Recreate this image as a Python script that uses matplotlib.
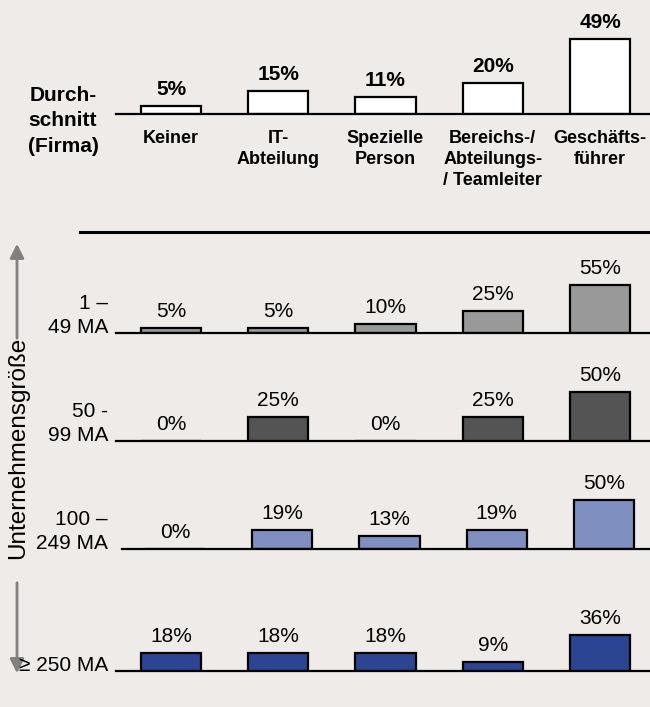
import matplotlib
matplotlib.use("Agg")
import matplotlib.pyplot as plt

plt.rcParams['font.family'] = ['Liberation Sans', 'DejaVu Sans']

# data
categories = ["Keiner", "IT-\nAbteilung", "Spezielle\nPerson",
              "Bereichs-/\nAbteilungs-\n/ Teamleiter", "Geschäfts-\nführer"]
average = [5, 15, 11, 20, 49]
row_labels = ["1 –\n49 MA", "50 -\n99 MA", "100 –\n249 MA", "≥ 250 MA"]
row_values = [
    [5, 5, 10, 25, 55],
    [0, 25, 0, 25, 50],
    [0, 19, 13, 19, 50],
    [18, 18, 18, 9, 36],
]
row_colors = ["#999999", "#545454", "#7F8FBF", "#2B4592"]
bg = "#EEEBE9"

W, H = 650, 707
fig = plt.figure(figsize=(6.5, 7.07), dpi=100, facecolor=bg)


def panel(baseline, left, first_center, px_per_pct, height=90):
    step = 107.25
    ax = fig.add_axes([left / W, 1 - baseline / H, (W - left) / W, height / H])
    ax.set_xlim((left - first_center) / step, (W - first_center) / step)
    ax.set_ylim(0, height / px_per_pct)
    ax.axis("off")
    ax.axhline(0, color="black", lw=1.6, clip_on=False)
    return ax


# top panel: company average
ax = panel(113.7, 116, 171, 1.53)
x = range(len(average))
ax.bar(x, average, width=0.56, color="white", edgecolor="black", lw=1.6)
for i, v in enumerate(average):
    ax.annotate(f"{v}%", (i, v), xytext=(0, 5), textcoords="offset points",
                ha="center", va="bottom", fontsize=15, fontweight="bold")
    ax.annotate(categories[i], (i, 0), xytext=(0, -12), textcoords="offset points",
                ha="center", va="top", fontsize=13, fontweight="bold", linespacing=1.3)
fig.text(63 / W, 1 - 121 / H, "Durch-\nschnitt\n(Firma)", ha="center", va="center",
         fontsize=15, fontweight="bold", linespacing=1.42)

# separator line
fig.add_artist(plt.Line2D([80 / W, 1], [1 - 231.5 / H] * 2, color="black", lw=2.2))

# company size rows
baselines = [332.7, 441, 549, 671.3]
lefts = [116, 116, 122, 116]
centers = [171, 171, 175, 171]
scales = [0.86, 0.98, 0.99, 1.0]
for r, vals in enumerate(row_values):
    ax = panel(baselines[r], lefts[r], centers[r], scales[r])
    ax.bar(range(len(vals)), vals, width=0.56, color=row_colors[r],
           edgecolor="black", lw=1.6)
    for i, v in enumerate(vals):
        ax.annotate(f"{v}%", (i, v), xytext=(0, 5), textcoords="offset points",
                    ha="center", va="bottom", fontsize=15)
    fig.text(108 / W, 1 - (baselines[r] + 4) / H, row_labels[r], ha="right",
             va="bottom", fontsize=15, linespacing=1.33)

# size arrows and axis title
arrow_kw = dict(arrowstyle="-|>,head_length=0.6,head_width=0.3", color="#808080", lw=2)
fig.add_artist(matplotlib.patches.FancyArrowPatch(
    (17 / W, 1 - 341 / H), (17 / W, 1 - 241 / H), transform=fig.transFigure,
    mutation_scale=14, **arrow_kw))
fig.add_artist(matplotlib.patches.FancyArrowPatch(
    (17 / W, 1 - 580 / H), (17 / W, 1 - 676 / H), transform=fig.transFigure,
    mutation_scale=14, **arrow_kw))
fig.text(18 / W, 1 - 448 / H, "Unternehmensgröße", rotation=90, ha="center",
         va="center", fontsize=17.5)

fig.savefig("out.png", dpi=100, facecolor=bg)
